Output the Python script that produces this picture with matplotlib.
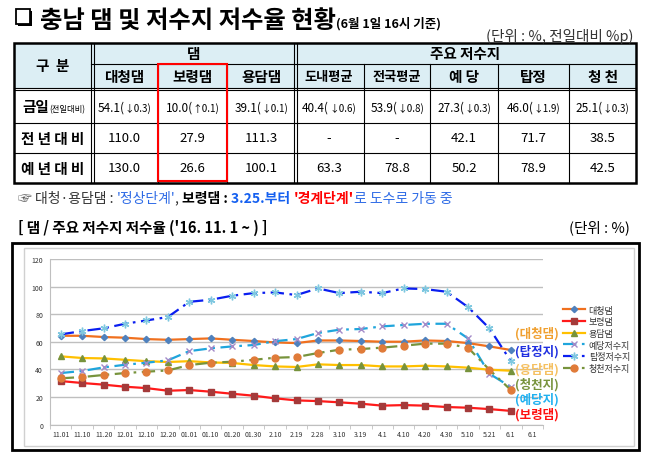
import matplotlib
matplotlib.use('Agg')
import matplotlib.pyplot as plt
from matplotlib.patches import Rectangle

plt.rcParams['font.family'] = ['Noto Sans CJK KR', 'DejaVu Sans']

# ---- table data ----
dams = ['대청댐', '보령댐', '용담댐']
reservoirs = ['도내평균', '전국평균', '예 당', '탑정', '청 천']
row_labels = ['전 년 대 비', '예 년 대 비']
today_val = ['54.1', '10.0', '39.1', '40.4', '53.9', '27.3', '46.0', '25.1']
today_chg = ['↓0.3', '↑0.1', '↓0.1', '↓0.6', '↓0.8', '↓0.3', '↓1.9', '↓0.3']
prev_year = ['110.0', '27.9', '111.3', '-', '-', '42.1', '71.7', '38.5']
normal_year = ['130.0', '26.6', '100.1', '63.3', '78.8', '50.2', '78.9', '42.5']

# ---- chart data ----
dates = ['11.01', '11.10', '11.20', '12.01', '12.10', '12.20', '01.01', '01.10',
         '01.20', '01.30', '2.10', '2.19', '2.28', '3.10', '3.19', '4.1', '4.10',
         '4.20', '4.30', '5.10', '5.21', '6.1', '6.1']
daecheong = [64.4, 64.4, 63.5, 63.0, 62.0, 61.5, 62.0, 62.5, 61.5, 60.6, 59.6,
             59.1, 61.0, 61.0, 60.6, 60.1, 60.1, 61.0, 60.6, 59.1, 56.7, 54.1]
boryeong = [31.6, 30.2, 29.0, 27.5, 26.5, 24.6, 25.1, 23.9, 22.4, 21.0, 19.1,
            17.6, 17.1, 16.2, 15.2, 13.8, 14.2, 13.8, 12.8, 12.3, 11.3, 10.0]
yongdam = [49.5, 48.3, 48.0, 47.0, 46.0, 45.4, 46.0, 45.1, 44.7, 43.2, 42.2,
           41.8, 43.7, 43.2, 43.2, 42.2, 42.2, 42.7, 42.2, 41.3, 39.8, 39.1]
yedang = [37.4, 38.9, 41.5, 43.4, 44.9, 46.6, 53.3, 55.3, 56.7, 57.7, 60.5,
          62.0, 66.4, 68.8, 69.3, 71.2, 72.2, 73.1, 73.1, 62.5, 36.9, 27.3]
tapjeong = [65.4, 67.8, 69.8, 73.1, 75.5, 78.0, 89.0, 90.5, 93.4, 95.3, 95.8,
            93.9, 98.7, 95.3, 96.3, 95.3, 98.7, 98.2, 96.3, 85.2, 69.8, 46.0]
cheongcheon = [33.6, 34.5, 36.0, 37.4, 38.4, 39.3, 43.2, 44.9, 45.6, 47.0, 48.5,
               49.0, 51.9, 54.3, 54.8, 55.8, 57.2, 58.7, 58.7, 55.8, 39.8, 25.1]

side_labels = ['(대청댐)', '(탑정지)', '(용담댐)', '(청천지)', '(예당지)', '(보령댐)']
side_colors = ['#F0A030', '#1F2FE0', '#F5C060', '#77933C', '#1FB0F0', '#FF1010']

fig = plt.figure(figsize=(6.5, 4.56), dpi=100)
tab = fig.add_axes([0, 0, 1, 1])
tab.set_xlim(0, 650)
tab.set_ylim(456, 0)
tab.axis('off')
renderer = fig.canvas.get_renderer()


def runs(x, y, parts, ha='left', fs=9):
    objs = []
    for s, kw in parts:
        d = dict(fontsize=fs, color='black')
        d.update(kw)
        objs.append(tab.text(x, y, s, ha='left', va='baseline', **d))
    widths = [t.get_window_extent(renderer).width for t in objs]
    cur = x - sum(widths) / 2 if ha == 'center' else x
    for t, w in zip(objs, widths):
        t.set_x(cur)
        cur += w


# title
tab.add_patch(Rectangle((18, 12), 14, 15, facecolor='black', zorder=2))
tab.add_patch(Rectangle((16, 10), 14, 15, facecolor='white', edgecolor='black', lw=1.3, zorder=3))
runs(40, 28, [('충남 댐 및 저수지 저수율 현황', dict(fontsize=17.5, fontweight='bold')),
              ('(6월 1일 16시 기준)', dict(fontsize=9, fontweight='bold'))])
tab.text(634, 37, '(단위 : %, 전일대비 %p)', ha='right', va='center', fontsize=10.5, color='#333333')

# table geometry
xs = [14, 91, 158, 227, 294, 364, 430, 498, 569, 636]
ys = [44, 65, 89, 124, 154, 184]
hdr = '#DCEEF4'
tab.add_patch(Rectangle((14, 44), 622, 45, facecolor=hdr, edgecolor='none'))
lk = dict(color='black', lw=0.8)
tab.plot([91, 636], [65, 65], **lk)
tab.plot([14, 636], [88.5, 88.5], **lk)
tab.plot([14, 636], [91, 91], **lk)
for y in ys[3:5]:
    tab.plot([14, 636], [y, y], **lk)
for x in [158, 227, 364, 430, 498, 569]:
    tab.plot([x, x], [65, 184], **lk)
for x in [91, 294]:
    tab.plot([x, x], [44, 184], **lk)
    tab.plot([x + 2.5, x + 2.5], [44, 184], **lk)
tab.add_patch(Rectangle((14, 44), 622, 140, facecolor='none', edgecolor='black', lw=1.8))
tab.add_patch(Rectangle((158, 65), 69, 117, facecolor='none', edgecolor='#FF0000', lw=1.5, zorder=5))

hb = dict(fontsize=10.5, fontweight='bold', ha='center', va='center')
tab.text(52.5, 66, '구  분', **hb)
tab.text(194, 54.5, '댐', **hb)
tab.text(465, 54.5, '주요 저수지', **hb)
cx = [(xs[i] + xs[i + 1]) / 2 + (1.2 if i in (0, 3) else 0) for i in range(1, 9)]
for c, name in zip(cx, dams + reservoirs):
    tab.text(c, 77, name, fontsize=10.5 if len(name) < 4 else 9.5, fontweight='bold',
             ha='center', va='center')

runs(54, 112, [('금일', dict(fontsize=10.5, fontweight='bold')), ('(전일대비)', dict(fontsize=6))], ha='center')
for y, lab in zip([139, 169], row_labels):
    tab.text(53, y, lab, fontsize=10.5, fontweight='bold', ha='center', va='center')

for c, v, d in zip(cx, today_val, today_chg):
    runs(c, 111.5, [(v + '(', dict(fontsize=8.5)), (d + ')', dict(fontsize=7))], ha='center')
for c, a, b in zip(cx, prev_year, normal_year):
    tab.text(c, 139, a, fontsize=9.5, ha='center', va='center')
    tab.text(c, 169, b, fontsize=9.5, ha='center', va='center')

# note line
runs(18, 203, [('☞ ', dict(color='#555555')), ('대청·용담댐 : ', dict(color='#333333')),
               ("'정상단계'", dict(color='#2E6BE6')), (', ', dict(color='#333333')),
               ('보령댐 : ', dict(fontweight='bold')),
               ('3.25.부터 ', dict(color='#1560F0', fontweight='bold')),
               ("'경계단계'", dict(color='#FF0000', fontweight='bold')),
               ('로 도수로 가동 중', dict(color='#2E6BE6'))], fs=10)

# chart header
tab.text(18, 228, "[ 댐 / 주요 저수지 저수율 ('16. 11. 1 ~ ) ]", fontsize=10.5,
         fontweight='bold', va='center')
tab.text(630, 228, '(단위 : %)', fontsize=10.5, ha='right', va='center')
tab.add_patch(Rectangle((12, 244), 627, 207, facecolor='white', edgecolor='black', lw=2))
tab.add_patch(Rectangle((24, 249), 610, 198, facecolor='none', edgecolor='#D0D0D0', lw=1))

# chart
ax = fig.add_axes([50 / 650, (456 - 425.7) / 456, 493 / 650, 165.7 / 456])
ax.patch.set_alpha(0)
n = len(dates)
xi = list(range(len(daecheong)))
dd = (6, 2.5, 1.2, 2.5)
series = [
    ('대청댐', daecheong, dict(color='#F0701E', marker='D', ms=3.2, mfc='#4F81BD', mec='#4F81BD', ls='-')),
    ('보령댐', boryeong, dict(color='#FF1A1A', marker='s', ms=4.5, mfc='#A43A3A', mec='#A43A3A', ls='-')),
    ('용담댐', yongdam, dict(color='#FFC000', marker='^', ms=4.5, mfc='#77933C', mec='#77933C', ls='-')),
    ('예당저수지', yedang, dict(color='#1FA5DC', marker='x', ms=5, mec='#A48BC8', mew=1, dashes=dd)),
    ('탑정저수지', tapjeong, dict(color='#0A1EF0', marker=(6, 2, 0), ms=5.5, mec='#7FC8E0', mew=1, dashes=dd)),
    ('청천저수지', cheongcheon, dict(color='#77933C', marker='o', ms=5, mfc='#E07B39', mec='#E07B39', dashes=dd)),
]
for name, vals, kw in series:
    ax.plot(xi, vals, lw=1.6, label=name, **kw)

ax.set_xlim(-0.5, n - 0.5)
ax.set_ylim(0, 120)
ax.set_yticks(range(0, 121, 20))
ax.set_xticks(range(n))
ax.set_xticklabels(dates)
ax.set_xticks([i - 0.5 for i in range(n + 1)], minor=True)
ax.tick_params(axis='x', which='major', length=0, labelsize=5, colors='#333333', pad=4)
ax.tick_params(axis='x', which='minor', length=3, color='#BFBFBF')
ax.tick_params(axis='y', length=0, labelsize=5, colors='#333333', pad=5)
ax.grid(axis='y', color='#BFBFBF', lw=1)
ax.set_axisbelow(True)
for s in ['top', 'right']:
    ax.spines[s].set_visible(False)
for s in ['left', 'bottom']:
    ax.spines[s].set_color('#BFBFBF')

leg = ax.legend(loc='upper left', bbox_to_anchor=(558 / 650, 1 - 302 / 456),
                bbox_transform=fig.transFigure, frameon=False, fontsize=6.5,
                handlelength=2.5, handletextpad=0.4, labelspacing=0.3, borderpad=0)
for t in leg.get_texts():
    t.set_color('#333333')

for lab, col, y in zip(side_labels, side_colors, [334, 352, 370, 384.5, 399.5, 414.5]):
    ax.text(515, y, lab, color=col, fontsize=9, fontweight='bold', va='center',
            transform=tab.transData)

fig.savefig('out.png', dpi=100)
